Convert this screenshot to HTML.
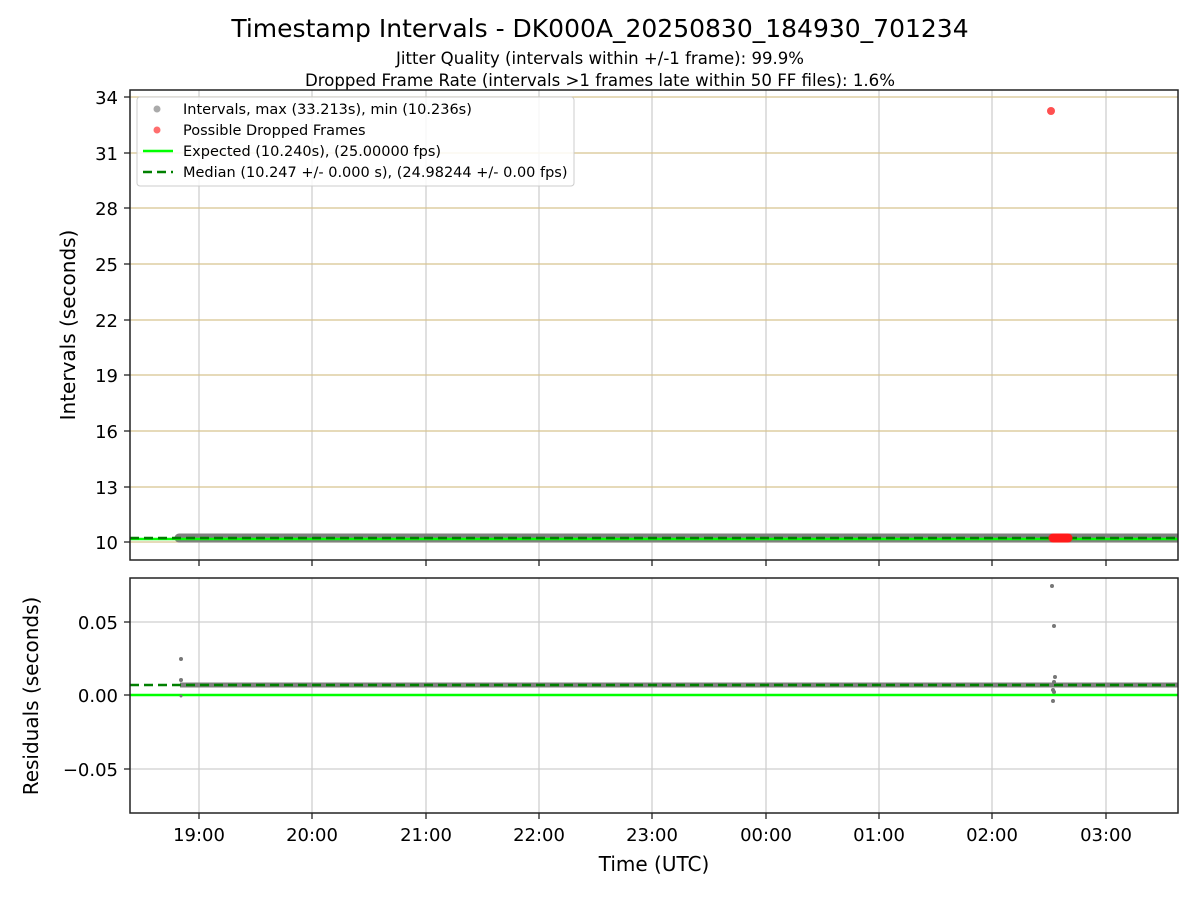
<!DOCTYPE html>
<html><head><meta charset="utf-8"><style>body{margin:0;background:#fff}svg{display:block}text{font-family:"DejaVu Sans","Liberation Sans",sans-serif;fill:#000}</style></head><body>
<svg width="1200" height="900" viewBox="0 0 1200 900">
<defs><clipPath id="c1"><rect x="130" y="90" width="1048" height="470"/></clipPath><clipPath id="c2"><rect x="130" y="578" width="1048" height="235"/></clipPath></defs>
<text x="600" y="37" font-size="25" text-anchor="middle">Timestamp Intervals - DK000A_20250830_184930_701234</text>
<text x="600" y="64" font-size="16.5" text-anchor="middle" textLength="408" lengthAdjust="spacingAndGlyphs">Jitter Quality (intervals within +/-1 frame): 99.9%</text>
<text x="600" y="86" font-size="16.5" text-anchor="middle" textLength="590" lengthAdjust="spacingAndGlyphs">Dropped Frame Rate (intervals &gt;1 frames late within 50 FF files): 1.6%</text>
<g stroke="#cfcfcf" stroke-width="1.3">
<line x1="199" y1="90" x2="199" y2="560"/><line x1="312" y1="90" x2="312" y2="560"/><line x1="426" y1="90" x2="426" y2="560"/><line x1="539" y1="90" x2="539" y2="560"/><line x1="652" y1="90" x2="652" y2="560"/><line x1="766" y1="90" x2="766" y2="560"/><line x1="879" y1="90" x2="879" y2="560"/><line x1="992" y1="90" x2="992" y2="560"/><line x1="1106" y1="90" x2="1106" y2="560"/>
<line x1="199" y1="578" x2="199" y2="813"/><line x1="312" y1="578" x2="312" y2="813"/><line x1="426" y1="578" x2="426" y2="813"/><line x1="539" y1="578" x2="539" y2="813"/><line x1="652" y1="578" x2="652" y2="813"/><line x1="766" y1="578" x2="766" y2="813"/><line x1="879" y1="578" x2="879" y2="813"/><line x1="992" y1="578" x2="992" y2="813"/><line x1="1106" y1="578" x2="1106" y2="813"/>
<line x1="130" y1="622" x2="1178" y2="622"/><line x1="130" y1="695" x2="1178" y2="695"/><line x1="130" y1="769" x2="1178" y2="769"/>
</g>
<g stroke="#d8c48f" stroke-width="1.3">
<line x1="130" y1="97" x2="1178" y2="97"/><line x1="130" y1="153" x2="1178" y2="153"/><line x1="130" y1="208" x2="1178" y2="208"/><line x1="130" y1="264" x2="1178" y2="264"/><line x1="130" y1="320" x2="1178" y2="320"/><line x1="130" y1="375" x2="1178" y2="375"/><line x1="130" y1="431" x2="1178" y2="431"/><line x1="130" y1="487" x2="1178" y2="487"/><line x1="130" y1="542" x2="1178" y2="542"/>
</g>
<g clip-path="url(#c1)">
<line x1="179" y1="538" x2="1190" y2="538" stroke="#808080" stroke-width="9" stroke-linecap="round"/>
<line x1="130" y1="539" x2="1178" y2="539" stroke="#00ff00" stroke-width="2.5"/>
<line x1="130" y1="538" x2="1178" y2="538" stroke="#008000" stroke-width="2.5" stroke-dasharray="9,5"/>
<line x1="1053" y1="538" x2="1068" y2="538" stroke="#ff1a1a" stroke-width="9" stroke-linecap="round"/>
<circle cx="1051" cy="111" r="4" fill="#ff5050"/>
</g>
<g clip-path="url(#c2)">
<line x1="180" y1="685" x2="1178" y2="685" stroke="#808080" stroke-width="5"/>
<line x1="130" y1="695" x2="1178" y2="695" stroke="#00ff00" stroke-width="2.5"/>
<line x1="130" y1="685" x2="1178" y2="685" stroke="#008000" stroke-width="2.5" stroke-dasharray="9,5"/>
<g fill="#777"><circle cx="181" cy="659" r="2"/><circle cx="181" cy="680" r="2"/><circle cx="181" cy="696" r="1.5"/><circle cx="1052" cy="586" r="2"/><circle cx="1054" cy="626" r="2"/><circle cx="1055" cy="677" r="2"/><circle cx="1054" cy="682" r="2"/><circle cx="1053" cy="690" r="2"/><circle cx="1054" cy="692" r="2"/><circle cx="1053" cy="701" r="2"/></g>
</g>
<rect x="130" y="90" width="1048" height="470" fill="none" stroke="#222" stroke-width="1.5"/>
<rect x="130" y="578" width="1048" height="235" fill="none" stroke="#222" stroke-width="1.5"/>
<g stroke="#222" stroke-width="1.3">
<line x1="124" y1="97" x2="130" y2="97"/><line x1="124" y1="153" x2="130" y2="153"/><line x1="124" y1="208" x2="130" y2="208"/><line x1="124" y1="264" x2="130" y2="264"/><line x1="124" y1="320" x2="130" y2="320"/><line x1="124" y1="375" x2="130" y2="375"/><line x1="124" y1="431" x2="130" y2="431"/><line x1="124" y1="487" x2="130" y2="487"/><line x1="124" y1="542" x2="130" y2="542"/>
<line x1="124" y1="622" x2="130" y2="622"/><line x1="124" y1="695" x2="130" y2="695"/><line x1="124" y1="769" x2="130" y2="769"/>
<line x1="199" y1="560" x2="199" y2="566"/><line x1="312" y1="560" x2="312" y2="566"/><line x1="426" y1="560" x2="426" y2="566"/><line x1="539" y1="560" x2="539" y2="566"/><line x1="652" y1="560" x2="652" y2="566"/><line x1="766" y1="560" x2="766" y2="566"/><line x1="879" y1="560" x2="879" y2="566"/><line x1="992" y1="560" x2="992" y2="566"/><line x1="1106" y1="560" x2="1106" y2="566"/>
<line x1="199" y1="813" x2="199" y2="819"/><line x1="312" y1="813" x2="312" y2="819"/><line x1="426" y1="813" x2="426" y2="819"/><line x1="539" y1="813" x2="539" y2="819"/><line x1="652" y1="813" x2="652" y2="819"/><line x1="766" y1="813" x2="766" y2="819"/><line x1="879" y1="813" x2="879" y2="819"/><line x1="992" y1="813" x2="992" y2="819"/><line x1="1106" y1="813" x2="1106" y2="819"/>
</g>
<g font-size="18" text-anchor="end">
<text x="118" y="104">34</text><text x="118" y="160">31</text><text x="118" y="215">28</text><text x="118" y="271">25</text><text x="118" y="327">22</text><text x="118" y="382">19</text><text x="118" y="438">16</text><text x="118" y="494">13</text><text x="118" y="549">10</text>
<text x="118" y="629">0.05</text><text x="118" y="702">0.00</text><text x="118" y="776">−0.05</text>
</g>
<g font-size="18" text-anchor="middle">
<text x="199" y="841">19:00</text><text x="312" y="841">20:00</text><text x="426" y="841">21:00</text><text x="539" y="841">22:00</text><text x="652" y="841">23:00</text><text x="766" y="841">00:00</text><text x="879" y="841">01:00</text><text x="992" y="841">02:00</text><text x="1106" y="841">03:00</text>
<text x="654" y="871" font-size="20">Time (UTC)</text>
</g>
<text transform="translate(75,325) rotate(-90)" font-size="20" text-anchor="middle">Intervals (seconds)</text>
<text transform="translate(38,696) rotate(-90)" font-size="20" text-anchor="middle">Residuals (seconds)</text>
<rect x="137" y="97" width="437" height="89" rx="3" fill="#fff" fill-opacity="0.85" stroke="#ccc"/>
<circle cx="157" cy="109" r="3.5" fill="#aaa"/>
<circle cx="157" cy="130" r="3.5" fill="#ff6e6e"/>
<line x1="143" y1="151" x2="173" y2="151" stroke="#00ff00" stroke-width="2.5"/>
<line x1="143" y1="172" x2="173" y2="172" stroke="#008000" stroke-width="2.5" stroke-dasharray="9,5"/>
<g font-size="14.5">
<text x="183" y="114">Intervals, max (33.213s), min (10.236s)</text>
<text x="183" y="135">Possible Dropped Frames</text>
<text x="183" y="156">Expected (10.240s), (25.00000 fps)</text>
<text x="183" y="177">Median (10.247 +/- 0.000 s), (24.98244 +/- 0.00 fps)</text>
</g>
</svg>
</body></html>
